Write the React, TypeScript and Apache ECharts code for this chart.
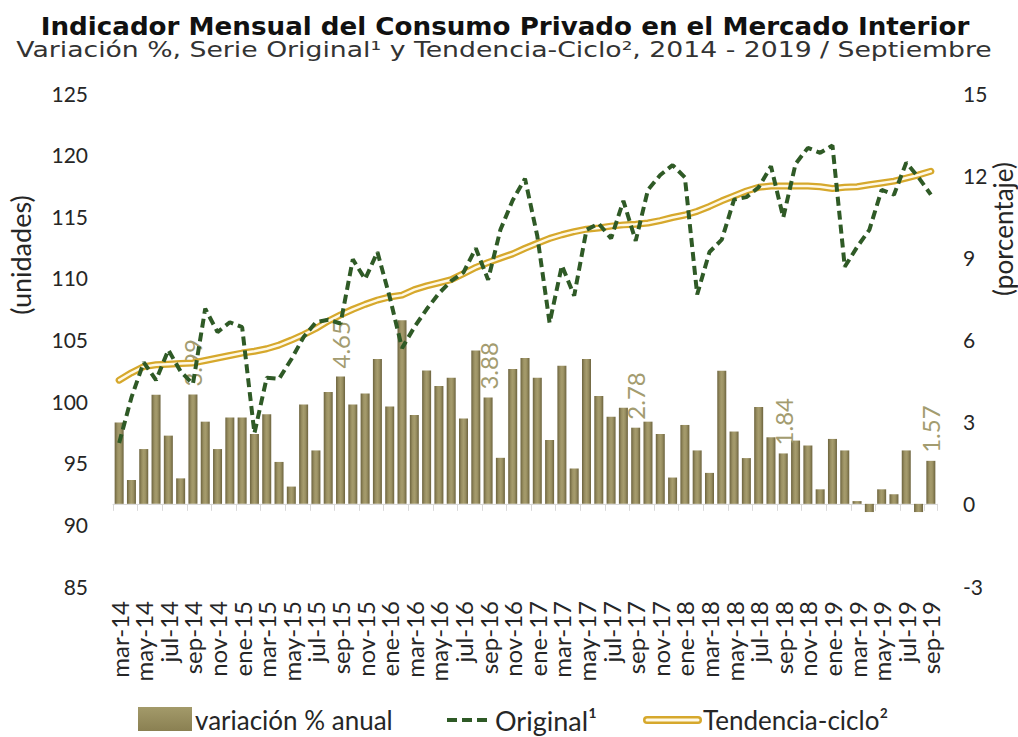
import { useEffect, useRef } from "react";
import * as echarts from "echarts";

const categories = [
  "mar-14", "abr-14", "may-14", "jun-14", "jul-14", "ago-14", "sep-14", "oct-14", "nov-14", "dic-14",
  "ene-15", "feb-15", "mar-15", "abr-15", "may-15", "jun-15", "jul-15", "ago-15", "sep-15", "oct-15", "nov-15", "dic-15",
  "ene-16", "feb-16", "mar-16", "abr-16", "may-16", "jun-16", "jul-16", "ago-16", "sep-16", "oct-16", "nov-16", "dic-16",
  "ene-17", "feb-17", "mar-17", "abr-17", "may-17", "jun-17", "jul-17", "ago-17", "sep-17", "oct-17", "nov-17", "dic-17",
  "ene-18", "feb-18", "mar-18", "abr-18", "may-18", "jun-18", "jul-18", "ago-18", "sep-18", "oct-18", "nov-18", "dic-18",
  "ene-19", "feb-19", "mar-19", "abr-19", "may-19", "jun-19", "jul-19", "ago-19", "sep-19",
];

const variacionAnual = [
  2.97, 0.87, 2.0, 3.98, 2.49, 0.93, 3.99, 3.0, 2.0, 3.15,
  3.15, 2.55, 3.27, 1.53, 0.63, 3.63, 1.95, 4.08, 4.65, 3.63, 4.03, 5.29,
  3.55, 6.7, 3.24, 4.87, 4.3, 4.6, 3.12, 5.6, 3.88, 1.68, 4.92, 5.32,
  4.6, 2.33, 5.04, 1.29, 5.29, 3.94, 3.18, 3.51, 2.78, 3.0, 2.55, 0.96,
  2.88, 1.95, 1.13, 4.86, 2.64, 1.67, 3.54, 2.43, 1.84, 2.31, 2.13, 0.53,
  2.37, 1.95, 0.1, -0.3, 0.53, 0.35, 1.95, -0.3, 1.57,
];

const original = [
  96.6, 100.3, 103.15, 101.7, 104.15, 102.4, 101.4, 107.5, 105.6, 106.4,
  106.0, 97.4, 101.9, 101.8, 103.4, 105.2, 106.4, 106.6, 106.3, 111.5, 109.9, 112.1,
  108.45, 104.3, 106.0, 107.45, 108.75, 109.75, 110.45, 112.4, 109.85, 113.9, 116.3, 118.05,
  113.4, 106.35, 111.0, 108.55, 113.9, 114.4, 113.2, 116.25, 113.0, 117.15, 118.35, 119.15,
  118.15, 108.65, 112.1, 113.1, 116.35, 116.55, 117.35, 119.05, 114.9, 119.25, 120.55, 120.15,
  120.75, 110.9, 112.5, 113.9, 117.15, 116.75, 119.35, 118.15, 116.75,
];

const tendenciaCiclo = [
  101.7, 102.3, 102.8, 102.95, 103.0, 103.05, 103.1, 103.3, 103.5, 103.7,
  103.9, 104.05, 104.25, 104.55, 104.95, 105.4, 105.9, 106.5, 107.0, 107.45, 107.85, 108.2,
  108.45, 108.6, 109.05, 109.35, 109.6, 109.85, 110.35, 110.85, 111.25, 111.6, 111.95, 112.4,
  112.8, 113.2, 113.5, 113.75, 113.95, 114.05, 114.2, 114.3, 114.35, 114.45, 114.65, 114.9,
  115.1, 115.4, 115.8, 116.25, 116.65, 117.05, 117.35, 117.45, 117.45, 117.45, 117.45, 117.4,
  117.25, 117.35, 117.4, 117.55, 117.7, 117.85, 118.1, 118.35, 118.65,
];

// Months whose annual variation is labelled (September of each year)
const labelledMonths = ["sep-14", "sep-15", "sep-16", "sep-17", "sep-18", "sep-19"];

const leftAxis = { min: 85, max: 125, interval: 5 };
const rightAxis = { min: -3, max: 15, interval: 3 };

const titleText = "Indicador Mensual del Consumo Privado en el Mercado Interior";
const subtitleText = "Variación %, Serie Original¹ y Tendencia-Ciclo², 2014 - 2019 / Septiembre";
const legendNames = ["variación % anual", "Original¹", "Tendencia-ciclo²"];

const GREEN = "#2F5A26";
const GOLD = "#D6A82C";
const GOLD_INNER = "#FFF9E6";
const FONT = "Lato";

export default function App() {
  const ref = useRef<HTMLDivElement>(null);

  useEffect(() => {
    if (!ref.current) return;
    const chart = echarts.init(ref.current, undefined, { renderer: "svg" });

    const barGradient = () =>
      new echarts.graphic.LinearGradient(0, 0, 1, 0, [
        { offset: 0, color: "#6C633E" },
        { offset: 0.3, color: "#9A9062" },
        { offset: 0.5, color: "#A69C6D" },
        { offset: 0.7, color: "#9A9062" },
        { offset: 1, color: "#6C633E" },
      ]);

    const textStyle = (text: string, size: number, align: string, extra: any = {}) => ({
      text,
      fontFamily: FONT,
      fontSize: size,
      fill: "#262626",
      textAlign: align,
      textVerticalAlign: "middle",
      align,
      verticalAlign: "middle",
      ...extra,
    });

    const option: any = {
      animation: false,
      backgroundColor: "#ffffff",
      grid: { left: 113, right: 81, top: 93, bottom: 151, containLabel: false },
      xAxis: {
        type: "category",
        data: categories,
        boundaryGap: true,
        axisLine: { show: true, lineStyle: { color: "#D9D9D9", width: 1 } },
        axisTick: { show: true, interval: 1, length: 7, lineStyle: { color: "#D9D9D9" } },
        axisLabel: {
          interval: 1,
          rotate: 90,
          fontFamily: FONT,
          fontSize: 24,
          color: "#262626",
          margin: 15,
        },
        splitLine: { show: false },
      },
      yAxis: [
        {
          type: "value",
          position: "left",
          min: leftAxis.min,
          max: leftAxis.max,
          interval: leftAxis.interval,
          axisLine: { show: false },
          axisTick: { show: false },
          splitLine: { show: false },
          axisLabel: { fontFamily: FONT, fontSize: 21, color: "#262626", margin: 25 },
        },
        {
          type: "value",
          position: "right",
          min: rightAxis.min,
          max: rightAxis.max,
          interval: rightAxis.interval,
          axisLine: { show: false },
          axisTick: { show: false },
          splitLine: { show: false },
          axisLabel: { fontFamily: FONT, fontSize: 21, color: "#262626", margin: 26 },
        },
      ],
      series: [
        {
          name: legendNames[0],
          type: "bar",
          yAxisIndex: 1,
          barWidth: 9,
          z: 2,
          itemStyle: { color: barGradient() },
          label: {
            show: false,
            position: "top",
            rotate: 90,
            align: "left",
            verticalAlign: "middle",
            distance: 8,
            fontFamily: FONT,
            fontSize: 24,
            color: "#A39C70",
            formatter: (p: any) => Number(p.value).toFixed(2),
          },
          data: variacionAnual.map((v, i) => ({
            value: v,
            label: { show: labelledMonths.includes(categories[i]) },
          })),
        },
        {
          name: legendNames[2],
          type: "line",
          yAxisIndex: 0,
          data: tendenciaCiclo,
          symbol: "none",
          z: 3,
          lineStyle: { color: GOLD, width: 7, cap: "round", join: "round" },
        },
        {
          name: "Tendencia-ciclo (interior)",
          type: "line",
          yAxisIndex: 0,
          data: tendenciaCiclo,
          symbol: "none",
          silent: true,
          z: 4,
          lineStyle: { color: GOLD_INNER, width: 2.5, cap: "round", join: "round" },
        },
        {
          name: legendNames[1],
          type: "line",
          yAxisIndex: 0,
          data: original,
          symbol: "none",
          z: 5,
          lineStyle: { color: GREEN, width: 4, type: [9, 5] },
        },
      ],
      graphic: [
        {
          type: "text",
          x: 505,
          y: 27,
          scaleX: 1.09,
          style: {
            text: titleText,
            fontFamily: "DejaVu Sans",
            fontWeight: "bold",
            fontSize: 24,
            fill: "#111111",
            textAlign: "center",
            textVerticalAlign: "middle",
            align: "center",
            verticalAlign: "middle",
          },
        },
        {
          type: "text",
          x: 504,
          y: 50,
          scaleX: 1.27,
          style: {
            text: subtitleText,
            fontFamily: "DejaVu Sans",
            fontSize: 21,
            fill: "#333333",
            textAlign: "center",
            textVerticalAlign: "middle",
            align: "center",
            verticalAlign: "middle",
          },
        },
        {
          type: "text",
          x: 20,
          y: 255,
          rotation: Math.PI / 2,
          style: textStyle("(unidades)", 27, "center"),
        },
        {
          type: "text",
          x: 1003,
          y: 229,
          rotation: Math.PI / 2,
          style: textStyle("(porcentaje)", 26, "center"),
        },
        {
          type: "rect",
          shape: { x: 138, y: 707, width: 54, height: 24 },
          style: {
            fill: new echarts.graphic.LinearGradient(0, 0, 0, 1, [
              { offset: 0, color: "#A39A6A" },
              { offset: 1, color: "#8A8052" },
            ]),
          },
        },
        { type: "text", x: 195, y: 720, style: textStyle(legendNames[0], 26, "left") },
        {
          type: "line",
          shape: { x1: 447, y1: 720, x2: 490, y2: 720 },
          style: { stroke: GREEN, lineWidth: 4, lineDash: [10, 5] },
        },
        { type: "text", x: 495, y: 720, style: textStyle(legendNames[1], 27, "left") },
        {
          type: "line",
          shape: { x1: 647, y1: 720, x2: 698, y2: 720 },
          style: { stroke: GOLD, lineWidth: 8, lineCap: "round" },
        },
        {
          type: "line",
          shape: { x1: 647, y1: 720, x2: 698, y2: 720 },
          style: { stroke: GOLD_INNER, lineWidth: 3, lineCap: "round" },
        },
        { type: "text", x: 703, y: 720, style: textStyle(legendNames[2], 26, "left") },
      ],
    };

    chart.setOption(option);
    return () => chart.dispose();
  }, []);

  return (
    <div
      ref={ref}
      style={{ position: "fixed", left: 0, top: 0, width: 1018, height: 737, background: "#fff" }}
    />
  );
}
